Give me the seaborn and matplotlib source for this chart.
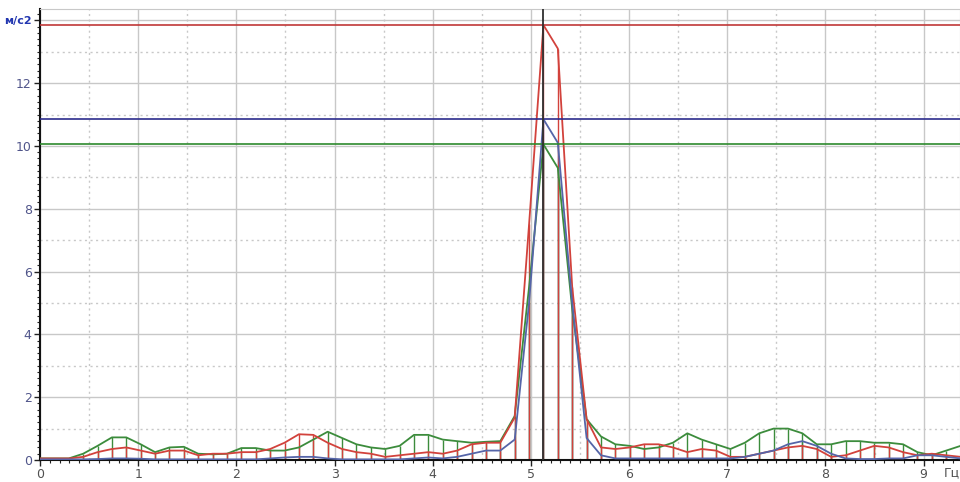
import numpy as np
import pandas as pd
import matplotlib
matplotlib.use("Agg")
import matplotlib.pyplot as plt
import seaborn as sns
from matplotlib.ticker import MultipleLocator

# spectrum, step ~0.1465 Hz
df_hz = 0.1465
green = [0.05, 0.05, 0.05, 0.2, 0.45, 0.72, 0.72, 0.5, 0.25, 0.4,
         0.42, 0.2, 0.18, 0.2, 0.38, 0.38, 0.3, 0.3, 0.4, 0.65,
         0.9, 0.7, 0.5, 0.4, 0.35, 0.45, 0.8, 0.8, 0.65, 0.6,
         0.55, 0.58, 0.6, 1.4, 5.5, 10.05, 9.3, 4.8, 1.3, 0.75,
         0.5, 0.45, 0.35, 0.4, 0.55, 0.85, 0.65, 0.5, 0.35, 0.55,
         0.85, 1.0, 1.0, 0.85, 0.5, 0.5, 0.6, 0.6, 0.55, 0.55,
         0.5, 0.25, 0.15, 0.3, 0.45]
red = [0.05, 0.05, 0.05, 0.1, 0.25, 0.35, 0.4, 0.3, 0.2, 0.3,
       0.3, 0.15, 0.2, 0.2, 0.25, 0.25, 0.35, 0.55, 0.82, 0.8,
       0.55, 0.35, 0.25, 0.2, 0.1, 0.15, 0.2, 0.25, 0.2, 0.3,
       0.5, 0.55, 0.55, 1.35, 7.5, 13.85, 13.1, 5.5, 1.3, 0.4,
       0.35, 0.4, 0.5, 0.5, 0.4, 0.25, 0.35, 0.3, 0.1, 0.1,
       0.2, 0.3, 0.4, 0.45, 0.35, 0.1, 0.15, 0.3, 0.45, 0.4,
       0.25, 0.15, 0.2, 0.15, 0.1]
blue = [0.02, 0.02, 0.02, 0.02, 0.03, 0.05, 0.05, 0.04, 0.02, 0.02,
        0.02, 0.02, 0.02, 0.02, 0.02, 0.02, 0.05, 0.08, 0.1, 0.1,
        0.05, 0.02, 0.02, 0.02, 0.02, 0.02, 0.05, 0.08, 0.05, 0.1,
        0.2, 0.3, 0.3, 0.65, 5.0, 10.85, 10.1, 5.0, 0.7, 0.15,
        0.05, 0.05, 0.05, 0.05, 0.05, 0.05, 0.05, 0.05, 0.05, 0.1,
        0.2, 0.3, 0.5, 0.6, 0.45, 0.2, 0.05, 0.03, 0.03, 0.05,
        0.05, 0.15, 0.15, 0.1, 0.05]
freq = np.arange(len(red)) * df_hz

x_ticks = [0, 1, 2, 3, 4, 5, 6, 7, 8, 9]
y_ticks = [0, 2, 4, 6, 8, 10, 12, 14]
y_labels = ['0', '2', '4', '6', '8', '10', '12', '\u043c/\u04412']
x_unit = '\u0413\u0446'

colors = {'red': '#d2423c', 'green': '#3c8c3c', 'blue': '#5565a8'}
level_colors = {'red': '#c03838', 'green': '#2e8a2e', 'blue': '#2c2c8c'}
grid_col = '#c8c8c8'

data = pd.DataFrame({'freq': np.tile(freq, 3),
                     'value': red + green + blue,
                     'ch': ['red'] * len(red) + ['green'] * len(green) + ['blue'] * len(blue)})

sns.set_style("white")
plt.rcParams['font.family'] = ['DejaVu Sans']

fig = plt.figure(figsize=(9.6, 4.82), dpi=100)
ax = fig.add_axes([40 / 960, 22 / 482, 920 / 960, 451 / 482])

# dotted half-step grid
for xv in np.arange(0.5, 9.5, 1.0):
    ax.axvline(xv, color=grid_col, lw=1.0, ls=(0, (1.5, 2.5)), zorder=0)
for yv in np.arange(1, 15, 2):
    ax.axhline(yv, color=grid_col, lw=1.0, ls=(0, (1.5, 2.5)), zorder=0)

# stems
for ch, vals in [('blue', blue), ('green', green), ('red', red)]:
    ax.vlines(freq, 0, vals, color=colors[ch], lw=1.0, zorder=2)

sns.lineplot(data=data, x='freq', y='value', hue='ch', hue_order=['green', 'red', 'blue'],
             palette=colors, lw=1.3, legend=False, ax=ax, zorder=3)

# max levels and cursor
peak = int(np.argmax(red))
for ch, vals in [('red', red), ('blue', blue), ('green', green)]:
    ax.axhline(max(vals), color=level_colors[ch], lw=1.2, zorder=4)
ax.axvline(freq[peak], color='#303030', lw=1.3, zorder=5)

ax.set_xlim(0, 9.37)
ax.set_ylim(0, 14.36)
ax.set_xticks(x_ticks)
ax.set_yticks(y_ticks)
ax.set_yticklabels(y_labels)
ax.xaxis.set_minor_locator(MultipleLocator(0.1))
ax.yaxis.set_minor_locator(MultipleLocator(0.2))
ax.grid(which='major', color=grid_col, lw=1.0, zorder=0)
ax.set_axisbelow(True)
ax.set_xlabel('')
ax.set_ylabel('')

ax.tick_params(axis='both', which='both', bottom=True, left=True, direction='out')
ax.tick_params(axis='both', which='major', length=4, width=1, color='#222222', labelsize=9)
ax.tick_params(axis='both', which='minor', length=2, width=0.8, color='#222222')
ax.tick_params(axis='y', labelcolor='#50558a', pad=2)
ax.tick_params(axis='x', labelcolor='#505050', pad=2)
ax.get_yticklabels()[-1].set_color('#2236b0')
ax.get_yticklabels()[-1].set_fontweight('bold')
ax.get_yticklabels()[-1].set_fontsize(8)

ax.text(9.2, -0.2, x_unit, transform=ax.transData, ha='left', va='top',
        fontsize=9, color='#505050', clip_on=False)

for s in ['left', 'bottom']:
    ax.spines[s].set_color('#111111')
    ax.spines[s].set_linewidth(1.5)
for s in ['top', 'right']:
    ax.spines[s].set_color(grid_col)

fig.savefig('out.png', dpi=100)
